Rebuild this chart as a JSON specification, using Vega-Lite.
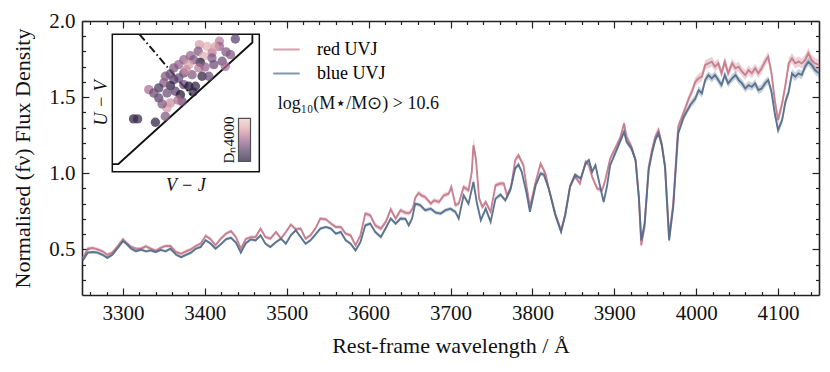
{
"$schema": "https://vega.github.io/schema/vega-lite/v6.json",
"width": 737, "height": 274,
"autosize": {"type": "none"},
"padding": {"left": 82, "top": 21, "right": 11, "bottom": 77},
"background": "white",
"config": {
  "view": {"stroke": null},
  "font": "Liberation Serif",
  "axis": {"labelFont": "Liberation Serif", "titleFont": "Liberation Serif", "labelColor": "#111", "titleColor": "#111", "domainColor": "#222", "tickColor": "#222", "grid": false, "titleFontWeight": "normal", "domainWidth": 1.6, "tickWidth": 1.2},
  "legend": {"labelFont": "Liberation Serif", "titleFont": "Liberation Serif"}
},
"datasets": {
"red": [
{"w":3251,"f":0.44,"e":0.012},{"w":3257,"f":0.504,"e":0.012},{"w":3263,"f":0.509,"e":0.012},{"w":3269,"f":0.5,"e":0.012},{"w":3275,"f":0.487,"e":0.012},{"w":3281,"f":0.464,"e":0.012},{"w":3287,"f":0.478,"e":0.012},{"w":3293,"f":0.516,"e":0.012},{"w":3300,"f":0.567,"e":0.012},{"w":3304,"f":0.544,"e":0.012},{"w":3310,"f":0.516,"e":0.012},{"w":3316,"f":0.504,"e":0.012},{"w":3322,"f":0.504,"e":0.012},{"w":3328,"f":0.52,"e":0.012},{"w":3334,"f":0.504,"e":0.012},{"w":3340,"f":0.49,"e":0.012},{"w":3346,"f":0.509,"e":0.012},{"w":3352,"f":0.522,"e":0.012},{"w":3358,"f":0.522,"e":0.012},{"w":3365,"f":0.482,"e":0.012},{"w":3371,"f":0.471,"e":0.012},{"w":3377,"f":0.487,"e":0.012},{"w":3383,"f":0.5,"e":0.012},{"w":3389,"f":0.522,"e":0.012},{"w":3395,"f":0.538,"e":0.012},{"w":3401,"f":0.589,"e":0.012},{"w":3407,"f":0.567,"e":0.012},{"w":3413,"f":0.527,"e":0.012},{"w":3419,"f":0.567,"e":0.012},{"w":3426,"f":0.604,"e":0.012},{"w":3432,"f":0.62,"e":0.012},{"w":3438,"f":0.58,"e":0.012},{"w":3444,"f":0.504,"e":0.012},{"w":3450,"f":0.568,"e":0.012},{"w":3456,"f":0.58,"e":0.012},{"w":3462,"f":0.581,"e":0.012},{"w":3468,"f":0.636,"e":0.012},{"w":3474,"f":0.581,"e":0.012},{"w":3480,"f":0.57,"e":0.012},{"w":3487,"f":0.614,"e":0.012},{"w":3493,"f":0.57,"e":0.012},{"w":3499,"f":0.614,"e":0.012},{"w":3505,"f":0.662,"e":0.012},{"w":3511,"f":0.632,"e":0.012},{"w":3517,"f":0.636,"e":0.012},{"w":3523,"f":0.57,"e":0.012},{"w":3529,"f":0.592,"e":0.012},{"w":3535,"f":0.636,"e":0.012},{"w":3541,"f":0.702,"e":0.012},{"w":3548,"f":0.697,"e":0.012},{"w":3554,"f":0.669,"e":0.012},{"w":3560,"f":0.647,"e":0.012},{"w":3566,"f":0.647,"e":0.012},{"w":3572,"f":0.603,"e":0.012},{"w":3578,"f":0.592,"e":0.012},{"w":3584,"f":0.526,"e":0.012},{"w":3590,"f":0.592,"e":0.012},{"w":3596,"f":0.735,"e":0.014},{"w":3602,"f":0.724,"e":0.016},{"w":3608,"f":0.658,"e":0.016},{"w":3615,"f":0.636,"e":0.016},{"w":3621,"f":0.68,"e":0.016},{"w":3627,"f":0.763,"e":0.016},{"w":3633,"f":0.702,"e":0.016},{"w":3639,"f":0.757,"e":0.016},{"w":3645,"f":0.74,"e":0.016},{"w":3650,"f":0.738,"e":0.016},{"w":3654,"f":0.77,"e":0.016},{"w":3657,"f":0.84,"e":0.016},{"w":3661,"f":0.87,"e":0.016},{"w":3665,"f":0.853,"e":0.016},{"w":3669,"f":0.844,"e":0.016},{"w":3676,"f":0.8,"e":0.016},{"w":3680,"f":0.822,"e":0.016},{"w":3686,"f":0.811,"e":0.016},{"w":3692,"f":0.855,"e":0.016},{"w":3698,"f":0.866,"e":0.016},{"w":3701,"f":0.91,"e":0.016},{"w":3706,"f":0.79,"e":0.016},{"w":3710,"f":0.8,"e":0.016},{"w":3716,"f":0.91,"e":0.018},{"w":3722,"f":0.888,"e":0.022},{"w":3726,"f":1.009,"e":0.035},{"w":3728,"f":1.184,"e":0.05},{"w":3731,"f":1.096,"e":0.04},{"w":3735,"f":0.833,"e":0.025},{"w":3739,"f":0.778,"e":0.018},{"w":3743,"f":0.811,"e":0.016},{"w":3749,"f":0.746,"e":0.016},{"w":3755,"f":0.921,"e":0.016},{"w":3761,"f":0.932,"e":0.016},{"w":3765,"f":0.932,"e":0.016},{"w":3769,"f":0.855,"e":0.016},{"w":3774,"f":0.91,"e":0.016},{"w":3779,"f":1.085,"e":0.018},{"w":3783,"f":1.118,"e":0.018},{"w":3789,"f":1.053,"e":0.018},{"w":3793,"f":0.91,"e":0.016},{"w":3797,"f":0.778,"e":0.016},{"w":3804,"f":0.943,"e":0.016},{"w":3810,"f":1.063,"e":0.018},{"w":3816,"f":0.998,"e":0.018},{"w":3820,"f":0.899,"e":0.016},{"w":3828,"f":0.735,"e":0.016},{"w":3835,"f":0.625,"e":0.016},{"w":3840,"f":0.724,"e":0.016},{"w":3846,"f":0.91,"e":0.016},{"w":3852,"f":0.98,"e":0.016},{"w":3858,"f":0.932,"e":0.016},{"w":3865,"f":1.075,"e":0.016},{"w":3869,"f":1.053,"e":0.016},{"w":3873,"f":0.976,"e":0.016},{"w":3879,"f":0.9,"e":0.016},{"w":3885,"f":0.888,"e":0.016},{"w":3889,"f":0.954,"e":0.016},{"w":3895,"f":1.097,"e":0.018},{"w":3901,"f":1.162,"e":0.02},{"w":3907,"f":1.228,"e":0.02},{"w":3912,"f":1.327,"e":0.022},{"w":3915,"f":1.239,"e":0.02},{"w":3921,"f":1.173,"e":0.02},{"w":3926,"f":1.086,"e":0.02},{"w":3930,"f":0.844,"e":0.02},{"w":3933,"f":0.526,"e":0.022},{"w":3937,"f":0.647,"e":0.02},{"w":3942,"f":1.042,"e":0.02},{"w":3946,"f":1.151,"e":0.02},{"w":3950,"f":1.239,"e":0.02},{"w":3954,"f":1.283,"e":0.02},{"w":3958,"f":1.195,"e":0.02},{"w":3962,"f":1.042,"e":0.02},{"w":3967,"f":0.581,"e":0.02},{"w":3972,"f":0.801,"e":0.02},{"w":3978,"f":1.305,"e":0.022},{"w":3985,"f":1.403,"e":0.024},{"w":3991,"f":1.49,"e":0.026},{"w":3995,"f":1.54,"e":0.028},{"w":3999,"f":1.601,"e":0.03},{"w":4003,"f":1.623,"e":0.032},{"w":4007,"f":1.634,"e":0.032},{"w":4011,"f":1.711,"e":0.032},{"w":4015,"f":1.722,"e":0.032},{"w":4019,"f":1.733,"e":0.032},{"w":4023,"f":1.7,"e":0.032},{"w":4027,"f":1.722,"e":0.032},{"w":4031,"f":1.656,"e":0.032},{"w":4035,"f":1.733,"e":0.032},{"w":4039,"f":1.656,"e":0.032},{"w":4044,"f":1.722,"e":0.032},{"w":4048,"f":1.689,"e":0.032},{"w":4052,"f":1.7,"e":0.032},{"w":4056,"f":1.667,"e":0.032},{"w":4060,"f":1.645,"e":0.032},{"w":4064,"f":1.678,"e":0.032},{"w":4068,"f":1.656,"e":0.032},{"w":4072,"f":1.689,"e":0.032},{"w":4076,"f":1.656,"e":0.032},{"w":4080,"f":1.689,"e":0.032},{"w":4084,"f":1.733,"e":0.032},{"w":4088,"f":1.766,"e":0.034},{"w":4092,"f":1.656,"e":0.034},{"w":4096,"f":1.48,"e":0.034},{"w":4100,"f":1.349,"e":0.034},{"w":4105,"f":1.458,"e":0.034},{"w":4109,"f":1.579,"e":0.034},{"w":4113,"f":1.722,"e":0.034},{"w":4117,"f":1.755,"e":0.034},{"w":4121,"f":1.722,"e":0.034},{"w":4125,"f":1.733,"e":0.034},{"w":4129,"f":1.722,"e":0.034},{"w":4133,"f":1.744,"e":0.034},{"w":4137,"f":1.788,"e":0.036},{"w":4141,"f":1.744,"e":0.036},{"w":4145,"f":1.722,"e":0.036},{"w":4150,"f":1.711,"e":0.036}
],
"blue": [
{"w":3251,"f":0.427,"e":0.01},{"w":3257,"f":0.478,"e":0.01},{"w":3263,"f":0.482,"e":0.01},{"w":3269,"f":0.478,"e":0.01},{"w":3275,"f":0.464,"e":0.01},{"w":3281,"f":0.444,"e":0.01},{"w":3287,"f":0.464,"e":0.01},{"w":3293,"f":0.504,"e":0.01},{"w":3300,"f":0.553,"e":0.01},{"w":3304,"f":0.538,"e":0.01},{"w":3310,"f":0.504,"e":0.01},{"w":3316,"f":0.487,"e":0.01},{"w":3322,"f":0.498,"e":0.01},{"w":3328,"f":0.487,"e":0.01},{"w":3334,"f":0.493,"e":0.01},{"w":3340,"f":0.482,"e":0.01},{"w":3346,"f":0.496,"e":0.01},{"w":3352,"f":0.487,"e":0.01},{"w":3358,"f":0.504,"e":0.01},{"w":3365,"f":0.464,"e":0.01},{"w":3371,"f":0.449,"e":0.01},{"w":3377,"f":0.464,"e":0.01},{"w":3383,"f":0.478,"e":0.01},{"w":3389,"f":0.504,"e":0.01},{"w":3395,"f":0.516,"e":0.01},{"w":3401,"f":0.56,"e":0.01},{"w":3407,"f":0.538,"e":0.01},{"w":3413,"f":0.504,"e":0.01},{"w":3419,"f":0.531,"e":0.01},{"w":3426,"f":0.567,"e":0.01},{"w":3432,"f":0.576,"e":0.01},{"w":3438,"f":0.544,"e":0.01},{"w":3444,"f":0.478,"e":0.01},{"w":3450,"f":0.54,"e":0.01},{"w":3456,"f":0.565,"e":0.01},{"w":3462,"f":0.559,"e":0.01},{"w":3468,"f":0.592,"e":0.01},{"w":3474,"f":0.537,"e":0.01},{"w":3480,"f":0.515,"e":0.01},{"w":3487,"f":0.548,"e":0.01},{"w":3493,"f":0.57,"e":0.01},{"w":3499,"f":0.537,"e":0.01},{"w":3505,"f":0.592,"e":0.01},{"w":3511,"f":0.625,"e":0.01},{"w":3517,"f":0.581,"e":0.01},{"w":3523,"f":0.537,"e":0.01},{"w":3529,"f":0.559,"e":0.01},{"w":3535,"f":0.596,"e":0.01},{"w":3541,"f":0.636,"e":0.01},{"w":3548,"f":0.647,"e":0.01},{"w":3554,"f":0.636,"e":0.01},{"w":3560,"f":0.603,"e":0.01},{"w":3566,"f":0.614,"e":0.01},{"w":3572,"f":0.559,"e":0.01},{"w":3578,"f":0.537,"e":0.01},{"w":3584,"f":0.493,"e":0.01},{"w":3590,"f":0.548,"e":0.01},{"w":3596,"f":0.658,"e":0.012},{"w":3602,"f":0.669,"e":0.013},{"w":3608,"f":0.614,"e":0.013},{"w":3615,"f":0.581,"e":0.013},{"w":3621,"f":0.64,"e":0.013},{"w":3627,"f":0.702,"e":0.013},{"w":3633,"f":0.669,"e":0.013},{"w":3639,"f":0.702,"e":0.013},{"w":3645,"f":0.7,"e":0.013},{"w":3649,"f":0.658,"e":0.013},{"w":3653,"f":0.702,"e":0.013},{"w":3657,"f":0.8,"e":0.013},{"w":3663,"f":0.79,"e":0.013},{"w":3669,"f":0.757,"e":0.013},{"w":3676,"f":0.767,"e":0.013},{"w":3682,"f":0.741,"e":0.013},{"w":3688,"f":0.735,"e":0.013},{"w":3694,"f":0.757,"e":0.013},{"w":3700,"f":0.767,"e":0.013},{"w":3706,"f":0.746,"e":0.013},{"w":3710,"f":0.702,"e":0.013},{"w":3716,"f":0.855,"e":0.014},{"w":3722,"f":0.8,"e":0.014},{"w":3728,"f":0.943,"e":0.02},{"w":3732,"f":0.811,"e":0.016},{"w":3737,"f":0.691,"e":0.014},{"w":3743,"f":0.767,"e":0.014},{"w":3749,"f":0.68,"e":0.014},{"w":3755,"f":0.833,"e":0.014},{"w":3761,"f":0.86,"e":0.014},{"w":3767,"f":0.822,"e":0.014},{"w":3773,"f":0.888,"e":0.014},{"w":3779,"f":1.031,"e":0.015},{"w":3783,"f":1.057,"e":0.015},{"w":3787,"f":1.009,"e":0.015},{"w":3793,"f":0.866,"e":0.014},{"w":3797,"f":0.746,"e":0.014},{"w":3804,"f":0.921,"e":0.014},{"w":3810,"f":0.998,"e":0.015},{"w":3814,"f":0.991,"e":0.015},{"w":3820,"f":0.899,"e":0.014},{"w":3828,"f":0.724,"e":0.014},{"w":3835,"f":0.614,"e":0.014},{"w":3840,"f":0.724,"e":0.014},{"w":3846,"f":0.915,"e":0.014},{"w":3852,"f":0.99,"e":0.014},{"w":3859,"f":0.965,"e":0.014},{"w":3865,"f":1.064,"e":0.014},{"w":3869,"f":1.086,"e":0.014},{"w":3873,"f":1.009,"e":0.014},{"w":3877,"f":1.053,"e":0.014},{"w":3881,"f":0.954,"e":0.014},{"w":3887,"f":0.811,"e":0.014},{"w":3891,"f":0.91,"e":0.014},{"w":3895,"f":1.053,"e":0.015},{"w":3901,"f":1.129,"e":0.016},{"w":3907,"f":1.206,"e":0.017},{"w":3912,"f":1.272,"e":0.018},{"w":3915,"f":1.206,"e":0.018},{"w":3921,"f":1.162,"e":0.018},{"w":3926,"f":1.086,"e":0.018},{"w":3930,"f":0.844,"e":0.018},{"w":3933,"f":0.559,"e":0.018},{"w":3937,"f":0.669,"e":0.018},{"w":3942,"f":1.02,"e":0.018},{"w":3946,"f":1.129,"e":0.018},{"w":3950,"f":1.217,"e":0.018},{"w":3954,"f":1.261,"e":0.018},{"w":3958,"f":1.184,"e":0.018},{"w":3962,"f":1.042,"e":0.018},{"w":3967,"f":0.559,"e":0.018},{"w":3972,"f":0.779,"e":0.018},{"w":3978,"f":1.261,"e":0.02},{"w":3985,"f":1.371,"e":0.022},{"w":3993,"f":1.45,"e":0.024},{"w":3999,"f":1.491,"e":0.026},{"w":4003,"f":1.546,"e":0.027},{"w":4007,"f":1.524,"e":0.027},{"w":4011,"f":1.612,"e":0.027},{"w":4015,"f":1.645,"e":0.027},{"w":4019,"f":1.623,"e":0.027},{"w":4023,"f":1.645,"e":0.027},{"w":4027,"f":1.612,"e":0.027},{"w":4031,"f":1.579,"e":0.027},{"w":4035,"f":1.645,"e":0.027},{"w":4039,"f":1.59,"e":0.027},{"w":4044,"f":1.623,"e":0.027},{"w":4048,"f":1.645,"e":0.027},{"w":4052,"f":1.612,"e":0.027},{"w":4056,"f":1.59,"e":0.027},{"w":4060,"f":1.557,"e":0.027},{"w":4064,"f":1.579,"e":0.027},{"w":4068,"f":1.568,"e":0.027},{"w":4072,"f":1.59,"e":0.027},{"w":4076,"f":1.546,"e":0.027},{"w":4080,"f":1.557,"e":0.027},{"w":4084,"f":1.59,"e":0.027},{"w":4088,"f":1.612,"e":0.027},{"w":4092,"f":1.535,"e":0.028},{"w":4096,"f":1.392,"e":0.028},{"w":4100,"f":1.283,"e":0.028},{"w":4105,"f":1.349,"e":0.028},{"w":4109,"f":1.469,"e":0.028},{"w":4113,"f":1.535,"e":0.028},{"w":4117,"f":1.656,"e":0.028},{"w":4121,"f":1.634,"e":0.028},{"w":4125,"f":1.656,"e":0.028},{"w":4129,"f":1.645,"e":0.028},{"w":4133,"f":1.7,"e":0.028},{"w":4137,"f":1.733,"e":0.028},{"w":4141,"f":1.711,"e":0.028},{"w":4145,"f":1.678,"e":0.028},{"w":4150,"f":1.656,"e":0.028}
],
"uvj": [
{"vj":1.499,"uv":2.018,"d":1.45},{"vj":1.405,"uv":2.005,"d":1.7},{"vj":1.332,"uv":1.976,"d":1.85},{"vj":1.286,"uv":1.986,"d":1.8},{"vj":1.405,"uv":1.976,"d":1.6},{"vj":1.279,"uv":1.948,"d":1.55},{"vj":1.361,"uv":1.938,"d":1.7},{"vj":1.47,"uv":1.928,"d":1.55},{"vj":1.233,"uv":1.922,"d":1.6},{"vj":1.312,"uv":1.919,"d":1.85},{"vj":1.361,"uv":1.909,"d":1.55},{"vj":1.421,"uv":1.89,"d":1.5},{"vj":1.292,"uv":1.884,"d":1.25},{"vj":1.194,"uv":1.899,"d":1.6},{"vj":1.253,"uv":1.899,"d":1.55},{"vj":1.164,"uv":1.871,"d":1.6},{"vj":1.224,"uv":1.871,"d":1.8},{"vj":1.135,"uv":1.852,"d":1.55},{"vj":1.283,"uv":1.852,"d":1.7},{"vj":1.372,"uv":1.871,"d":1.5},{"vj":1.44,"uv":1.861,"d":1.65},{"vj":1.194,"uv":1.823,"d":1.5},{"vj":1.243,"uv":1.813,"d":1.55},{"vj":1.302,"uv":1.804,"d":1.3},{"vj":1.164,"uv":1.794,"d":1.5},{"vj":1.085,"uv":1.804,"d":1.55},{"vj":1.135,"uv":1.784,"d":1.45},{"vj":1.115,"uv":1.75,"d":1.3},{"vj":1.194,"uv":1.756,"d":1.5},{"vj":1.224,"uv":1.747,"d":1.25},{"vj":1.076,"uv":1.766,"d":1.55},{"vj":1.046,"uv":1.737,"d":1.4},{"vj":0.987,"uv":1.727,"d":1.65},{"vj":1.144,"uv":1.718,"d":1.45},{"vj":1.174,"uv":1.698,"d":1.25},{"vj":1.095,"uv":1.708,"d":1.5},{"vj":1.046,"uv":1.679,"d":1.45},{"vj":1.184,"uv":1.66,"d":1.5},{"vj":1.115,"uv":1.651,"d":1.75},{"vj":1.095,"uv":1.622,"d":1.8},{"vj":1.085,"uv":1.574,"d":1.55},{"vj":0.897,"uv":1.559,"d":1.3},{"vj":0.921,"uv":1.559,"d":1.35},{"vj":1.026,"uv":1.54,"d":1.3},{"vj":1.016,"uv":1.708,"d":1.5},{"vj":1.263,"uv":1.747,"d":1.3},{"vj":1.342,"uv":1.804,"d":1.5},
{"vj":1.379,"uv":1.972,"d":1.8},{"vj":1.444,"uv":1.944,"d":1.55},{"vj":1.208,"uv":1.84,"d":1.75},{"vj":1.113,"uv":1.817,"d":1.5},{"vj":1.249,"uv":1.714,"d":1.3},{"vj":1.066,"uv":1.645,"d":1.55},{"vj":1.32,"uv":1.857,"d":1.6},{"vj":1.16,"uv":1.668,"d":1.65}
],
"bound": [{"i":0,"vj":0.771,"uv":1.3},{"i":1,"vj":0.807,"uv":1.3},{"i":2,"vj":1.6,"uv":1.998},{"i":3,"vj":1.6,"uv":2.045}],
"dash": [{"vj":0.932,"uv":2.045},{"vj":1.237,"uv":1.697}],
"ilab": [{"t":"V − J","vj":1.206,"uv":1.172,"a":0},{"t":"U − V","vj":0.71,"uv":1.651,"a":270}]
},
"layer": [
{
  "layer": [
    {"data": {"name": "red"},
     "mark": {"type": "errorband", "color": "#c47788", "opacity": 0.32},
     "encoding": {
       "x": {"field": "w", "type": "quantitative", "scale": {"domain": [3250, 4150], "nice": false, "zero": false},
             "axis": {"orient": "bottom", "values": [3300,3400,3500,3600,3700,3800,3900,4000,4100], "format": "d", "tickSize": -7, "labelPadding": 14, "labelFontSize": 21, "title": "Rest-frame wavelength / Å", "titleFontSize": 22, "titlePadding": 12}},
       "y": {"field": "f", "type": "quantitative", "scale": {"domain": [0.2, 2.0], "nice": false, "zero": false},
             "axis": {"orient": "left", "values": [0.5, 1.0, 1.5, 2.0], "format": ".1f", "tickSize": -7, "labelPadding": 14, "labelFontSize": 21, "title": "Normalised (fν) Flux Density", "titleFontSize": 22, "titlePadding": 14}},
       "yError": {"field": "e"}
     }},
    {"data": {"name": "red"},
     "mark": {"type": "line", "strokeWidth": 1.9, "opacity": 0.9},
     "encoding": {
       "x": {"field": "w", "type": "quantitative", "axis": {"orient": "bottom", "values": [3260,3280,3320,3340,3360,3380,3420,3440,3460,3480,3520,3540,3560,3580,3620,3640,3660,3680,3720,3740,3760,3780,3820,3840,3860,3880,3920,3940,3960,3980,4020,4040,4060,4080,4120,4140], "tickSize": -3.5, "labels": false, "domain": false, "title": null}},
       "y": {"field": "f", "type": "quantitative", "axis": {"orient": "left", "values": [0.3,0.4,0.6,0.7,0.8,0.9,1.1,1.2,1.3,1.4,1.6,1.7,1.8,1.9], "tickSize": -3.5, "labels": false, "domain": false, "title": null}},
       "color": {"datum": "red UVJ", "type": "nominal", "scale": {"domain": ["red UVJ", "blue UVJ"], "range": ["#c47788", "#4f6a88"]},
                 "legend": {"orient": "none", "legendX": 190, "legendY": 14, "title": null, "symbolType": "stroke", "symbolSize": 700, "symbolStrokeWidth": 2, "symbolOpacity": 0.7, "labelFontSize": 18, "labelOffset": 16, "rowPadding": 0, "padding": 0}}
     }},
    {"data": {"name": "blue"},
     "mark": {"type": "errorband", "color": "#4f6a88", "opacity": 0.3},
     "encoding": {
       "x": {"field": "w", "type": "quantitative", "axis": {"orient": "top", "values": [3300,3400,3500,3600,3700,3800,3900,4000,4100], "tickSize": -7, "labels": false, "title": null}},
       "y": {"field": "f", "type": "quantitative", "axis": {"orient": "right", "values": [0.5, 1.0, 1.5, 2.0], "tickSize": -7, "labels": false, "title": null}},
       "yError": {"field": "e"}
     }},
    {"data": {"name": "blue"},
     "mark": {"type": "line", "strokeWidth": 1.9, "opacity": 0.9},
     "encoding": {
       "x": {"field": "w", "type": "quantitative", "axis": {"orient": "top", "values": [3260,3280,3320,3340,3360,3380,3420,3440,3460,3480,3520,3540,3560,3580,3620,3640,3660,3680,3720,3740,3760,3780,3820,3840,3860,3880,3920,3940,3960,3980,4020,4040,4060,4080,4120,4140], "tickSize": -3.5, "labels": false, "domain": false, "title": null}},
       "y": {"field": "f", "type": "quantitative", "axis": {"orient": "right", "values": [0.3,0.4,0.6,0.7,0.8,0.9,1.1,1.2,1.3,1.4,1.6,1.7,1.8,1.9], "tickSize": -3.5, "labels": false, "domain": false, "title": null}},
       "color": {"datum": "blue UVJ", "type": "nominal",
                 "legend": {"orient": "none", "legendX": 190, "legendY": 14, "title": null, "symbolType": "stroke", "symbolSize": 700, "symbolStrokeWidth": 2, "symbolOpacity": 0.7, "labelFontSize": 18, "labelOffset": 16, "rowPadding": 0, "padding": 0}}
     }},
    {"data": {"values": [{}]},
     "mark": {"type": "text", "text": "log₁₀(M⋆/M⊙) > 10.6", "align": "left", "baseline": "middle", "fontSize": 18, "font": "Liberation Serif", "color": "#111"},
     "encoding": {
       "x": {"datum": 3489, "type": "quantitative", "axis": null},
       "y": {"datum": 1.455, "type": "quantitative", "axis": null}
     }}
  ],
  "resolve": {"axis": {"x": "independent", "y": "independent"}}
},
{
  "layer": [
    {"data": {"values": [{}]},
     "mark": {"type": "rect", "fill": "white", "stroke": "#111", "strokeWidth": 1.5},
     "encoding": {
       "x": {"datum": 0.771, "type": "quantitative", "scale": {"domain": [0.771, 1.641], "range": [30.3, 177.3], "nice": false, "zero": false}, "axis": null},
       "x2": {"datum": 1.641},
       "y": {"datum": 1.256, "type": "quantitative", "scale": {"domain": [1.256, 2.045], "range": [150.7, 13.3], "nice": false, "zero": false}, "axis": null},
       "y2": {"datum": 2.045}
     }},
    {"data": {"name": "bound"},
     "mark": {"type": "line", "color": "#111", "strokeWidth": 1.8},
     "encoding": {
       "x": {"field": "vj", "type": "quantitative", "axis": null},
       "y": {"field": "uv", "type": "quantitative", "axis": null},
       "order": {"field": "i"}
     }},
    {"data": {"name": "dash"},
     "mark": {"type": "line", "color": "#111", "strokeWidth": 1.9, "strokeDash": [8, 3, 1.5, 3]},
     "encoding": {
       "x": {"field": "vj", "type": "quantitative", "axis": null},
       "y": {"field": "uv", "type": "quantitative", "axis": null}
     }},
    {"data": {"name": "uvj"},
     "mark": {"type": "circle", "size": 88, "opacity": 0.72},
     "encoding": {
       "x": {"field": "vj", "type": "quantitative", "axis": null},
       "y": {"field": "uv", "type": "quantitative", "axis": null},
       "color": {"field": "d", "type": "quantitative",
                 "scale": {"domain": [1.3, 1.44, 1.58, 1.72, 1.86, 2.0], "range": ["#2d1e3e", "#523d66", "#8b5a87", "#c0809c", "#e4b4b3", "#edd1cb"]},
                 "legend": {"orient": "none", "legendX": 156.5, "legendY": 97.3, "direction": "vertical", "gradientLength": 43, "gradientThickness": 12, "title": null, "labelOpacity": 0, "gradientStrokeColor": "#111", "gradientStrokeWidth": 1.2, "padding": 0}}
     }},
    {"data": {"values": [{}]},
     "mark": {"type": "text", "text": "Dₙ4000", "angle": 270, "align": "center", "baseline": "middle", "fontSize": 15, "font": "Liberation Serif", "color": "#111"},
     "encoding": {
       "x": {"datum": 1.462, "type": "quantitative", "axis": null},
       "y": {"datum": 1.438, "type": "quantitative", "axis": null}
     }},
    {"data": {"name": "ilab"},
     "mark": {"type": "text", "align": "center", "baseline": "middle", "fontSize": 18, "font": "Liberation Serif", "fontStyle": "italic", "color": "#111"},
     "encoding": {
       "x": {"field": "vj", "type": "quantitative", "axis": null},
       "y": {"field": "uv", "type": "quantitative", "axis": null},
       "text": {"field": "t"},
       "angle": {"field": "a", "type": "quantitative", "scale": null}
     }}
  ]
}
],
"resolve": {"scale": {"x": "independent", "y": "independent", "color": "independent"}, "axis": {"x": "independent", "y": "independent"}, "legend": {"color": "independent"}}
}
